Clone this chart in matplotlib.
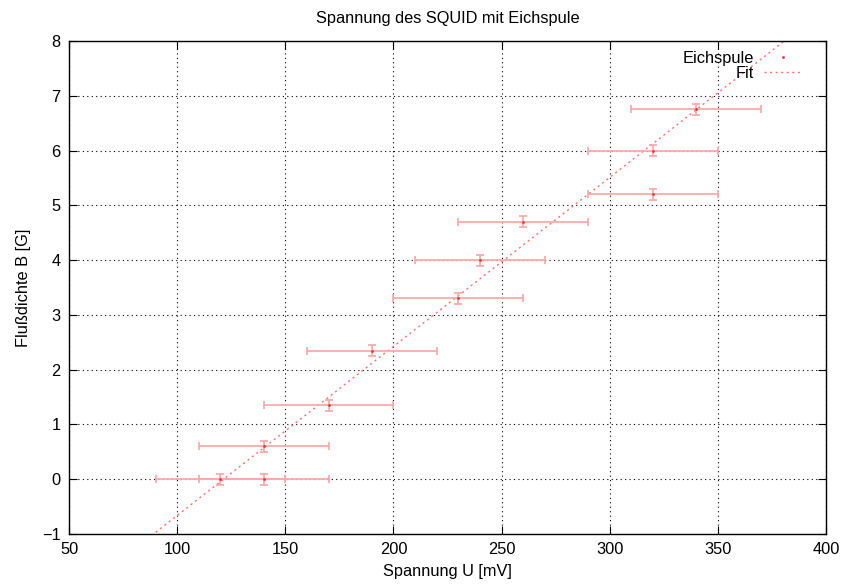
import numpy as np
import matplotlib
matplotlib.use('Agg')
import matplotlib.pyplot as plt

plt.rcParams['font.family'] = ['Liberation Sans', 'DejaVu Sans']

# measured points
u_mv = [120, 140, 140, 170, 190, 230, 240, 260, 320, 320, 340]
b_gauss = [0.0, 0.0, 0.6, 1.35, 2.35, 3.3, 4.0, 4.7, 5.2, 6.0, 6.75]
u_err = [30, 30, 30, 30, 30, 30, 30, 30, 30, 30, 30]
b_err = [0.1, 0.1, 0.1, 0.1, 0.1, 0.1, 0.1, 0.1, 0.1, 0.1, 0.1]

# linear fit B = m*U + c
fit_m = 0.03086
fit_c = -3.747

fs = 11.8

fig = plt.figure(figsize=(8.43, 5.86), dpi=100)
ax = fig.add_axes([0.0819, 0.0887, 0.898, 0.8413])

ax.errorbar(u_mv, b_gauss, xerr=u_err, yerr=b_err, fmt='none',
            ecolor='#ffaaaa', elinewidth=1.3, capsize=3, capthick=1.3,
            zorder=3)
ax.plot(u_mv, b_gauss, ls='none', marker='.', ms=2, color='#ff3030',
        label='Eichspule', zorder=4)

xs = np.linspace(50, 400, 200)
ax.plot(xs, fit_m * xs + fit_c, ls=(0, (1.5, 2.5)), lw=1.0,
        color='#ff7070', label='Fit', zorder=2)

ax.set_xlim(50, 400)
ax.set_ylim(-1, 8)
ax.set_xticks(np.arange(50, 401, 50))
ax.set_yticks(np.arange(-1, 9, 1))
ax.set_yticklabels(['\u22121'] + [str(v) for v in range(0, 9)])
ax.grid(True, color='black', ls=(0, (1, 3)), lw=0.8)
ax.tick_params(direction='in', length=6, top=True, right=True,
               labelsize=fs, pad=6)
for s in ax.spines.values():
    s.set_linewidth(1.0)

ax.set_title('Spannung des SQUID mit Eichspule', fontsize=fs, pad=13)
ax.set_xlabel('Spannung U [mV]', fontsize=fs, labelpad=5)
ax.set_ylabel('Flußdichte B [G]', fontsize=fs, labelpad=8)

leg = ax.legend(loc='upper right', frameon=False, fontsize=fs,
                markerfirst=False, handlelength=2.3, borderpad=0,
                bbox_to_anchor=(810 / 843, 1 - 43 / 586),
                bbox_transform=fig.transFigure,
                labelspacing=0.0, handletextpad=0.6)
for t in leg.get_texts():
    t.set_ha('right')

fig.savefig('out.png', dpi=100)
